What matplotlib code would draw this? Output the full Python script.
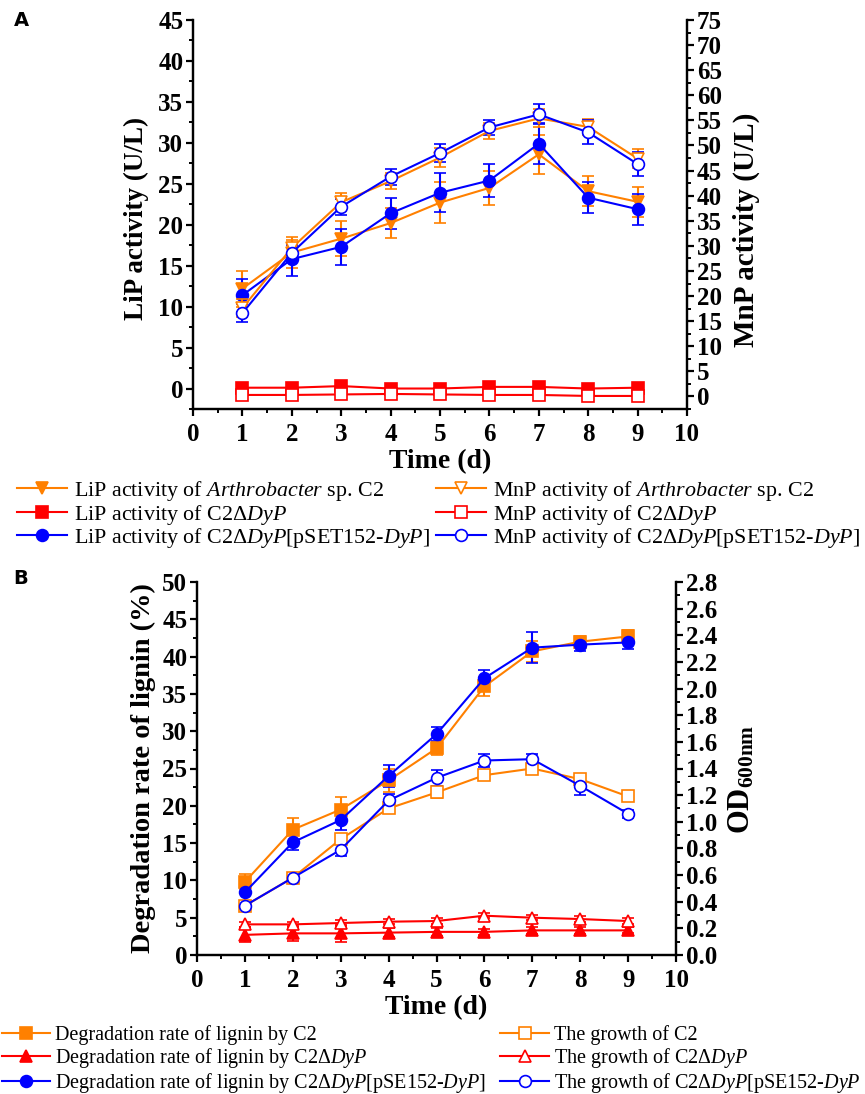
import matplotlib
matplotlib.use("Agg")
import matplotlib.pyplot as plt
from matplotlib.ticker import MultipleLocator, FormatStrFormatter
from matplotlib.lines import Line2D

plt.rcParams['font.family'] = ['Liberation Serif', 'DejaVu Serif']
plt.rcParams['mathtext.fontset'] = 'custom'
plt.rcParams['mathtext.rm'] = 'Liberation Serif'
plt.rcParams['mathtext.it'] = 'Liberation Serif:italic'
plt.rcParams['mathtext.bf'] = 'Liberation Serif:bold'

ORANGE = '#FF8000'
RED = '#FF0000'
BLUE = '#0000FF'

days = [1, 2, 3, 4, 5, 6, 7, 8, 9]

# Panel A (LiP left axis, MnP right axis), U/L
lip_c2 = [12.2, 16.6, 18.3, 20.2, 22.7, 24.5, 28.6, 24.1, 22.8]
lip_c2_err = [2.2, 1.9, 2.1, 1.8, 2.5, 2.1, 2.4, 1.8, 1.8]
lip_del = [0.1, 0.1, 0.3, 0.0, 0.0, 0.2, 0.2, 0.0, 0.1]
lip_del_err = [0.3, 0.3, 0.3, 0.3, 0.3, 0.3, 0.3, 0.3, 0.3]
lip_comp = [11.4, 15.8, 17.3, 21.4, 23.9, 25.4, 29.9, 23.3, 21.9]
lip_comp_err = [2.0, 2.0, 2.2, 1.9, 2.4, 2.0, 2.5, 1.9, 1.9]

mnp_c2 = [17.6, 29.6, 38.7, 42.9, 47.6, 52.9, 55.4, 53.7, 47.4]
mnp_c2_err = [1.8, 1.6, 1.8, 1.6, 1.8, 1.6, 1.8, 1.6, 1.8]
mnp_del = [0.3, 0.3, 0.4, 0.5, 0.4, 0.3, 0.3, 0.1, 0.1]
mnp_del_err = [0.3, 0.3, 0.3, 0.6, 0.4, 0.4, 0.5, 0.3, 0.3]
mnp_comp = [16.6, 28.6, 37.8, 43.8, 48.5, 53.6, 56.2, 52.6, 46.3]
mnp_comp_err = [1.8, 1.6, 1.6, 1.6, 1.8, 1.5, 2.0, 2.4, 2.4]

# Panel B (degradation % left axis, OD600 right axis)
deg_c2 = [9.8, 16.8, 19.5, 23.4, 27.7, 36.0, 40.7, 42.0, 42.7]
deg_c2_err = [1.0, 1.6, 1.7, 1.5, 0.9, 1.3, 1.4, 0.8, 0.8]
deg_del = [2.7, 2.9, 2.9, 3.0, 3.1, 3.1, 3.3, 3.3, 3.3]
deg_del_err = [1.0, 1.0, 1.1, 0.6, 0.5, 0.4, 0.5, 0.5, 0.4]
deg_comp = [8.4, 15.1, 18.1, 24.0, 29.6, 37.1, 41.2, 41.6, 41.9]
deg_comp_err = [1.5, 1.0, 1.4, 1.5, 0.9, 1.1, 2.1, 0.9, 0.9]

od_c2 = [0.37, 0.58, 0.87, 1.10, 1.22, 1.35, 1.40, 1.32, 1.19]
od_c2_err = [0.03, 0.03, 0.04, 0.03, 0.04, 0.04, 0.03, 0.04, 0.03]
od_del = [0.23, 0.23, 0.24, 0.25, 0.255, 0.295, 0.28, 0.27, 0.255]
od_del_err = [0.02, 0.02, 0.02, 0.02, 0.02, 0.02, 0.02, 0.02, 0.02]
od_comp = [0.37, 0.58, 0.79, 1.16, 1.33, 1.46, 1.47, 1.27, 1.06]
od_comp_err = [0.03, 0.03, 0.05, 0.05, 0.06, 0.05, 0.04, 0.07, 0.03]

legend_a = ['LiP activity of $\\mathit{Arthrobacter}$ sp. C2',
            'LiP activity of C2Δ$\\mathit{DyP}$',
            'LiP activity of C2Δ$\\mathit{DyP}$[pSET152-$\\mathit{DyP}$]',
            'MnP activity of $\\mathit{Arthrobacter}$ sp. C2',
            'MnP activity of C2Δ$\\mathit{DyP}$',
            'MnP activity of C2Δ$\\mathit{DyP}$[pSET152-$\\mathit{DyP}$]']
legend_b = ['Degradation rate of lignin by C2',
            'Degradation rate of lignin by C2Δ$\\mathit{DyP}$',
            'Degradation rate of lignin by C2Δ$\\mathit{DyP}$[pSE152-$\\mathit{DyP}$]',
            'The growth of C2',
            'The growth of C2Δ$\\mathit{DyP}$',
            'The growth of C2Δ$\\mathit{DyP}$[pSE152-$\\mathit{DyP}$']

W, H = 865, 1094
fig = plt.figure(figsize=(W / 100, H / 100), dpi=100)

TICKFS = 18
MS = 8.5


def style_axis(ax, xpad=5):
    ax.spines['top'].set_visible(False)
    for s in ['left', 'right', 'bottom']:
        ax.spines[s].set_linewidth(1.6)
    ax.tick_params(which='major', direction='out', length=5, width=1.6,
                   labelsize=TICKFS, pad=2)
    ax.tick_params(axis='x', which='major', pad=xpad)
    ax.tick_params(which='minor', direction='out', length=3, width=1.4)
    for lab in ax.get_xticklabels() + ax.get_yticklabels():
        lab.set_fontweight('bold')


def series(ax, y, err, color, marker, filled):
    mfc = color if filled else 'white'
    ax.errorbar(days, y, yerr=err, color=color, marker=marker, ms=MS,
                mfc=mfc, mec=color, mew=1.2, lw=1.5, capsize=4,
                elinewidth=1.5, capthick=1.5)


def place_label(label, size):
    label.set_fontsize(size)
    label.set_fontweight('bold')
    label.set_ha('center')
    label.set_va('center')
    label.set_rotation_mode('default')


# ---------------- Panel A ----------------
axA = fig.add_axes([193 / W, 1 - 409 / H, (687 - 193) / W, (409 - 20) / H])
axA2 = axA.twinx()
series(axA, lip_c2, lip_c2_err, ORANGE, 'v', True)
series(axA, lip_del, lip_del_err, RED, 's', True)
series(axA, lip_comp, lip_comp_err, BLUE, 'o', True)
series(axA2, mnp_c2, mnp_c2_err, ORANGE, 'v', False)
series(axA2, mnp_del, mnp_del_err, RED, 's', False)
series(axA2, mnp_comp, mnp_comp_err, BLUE, 'o', False)
axA.set_xlim(0, 10)
axA.set_ylim(-2.5, 45)
axA2.set_ylim(-2.5, 75)
axA.xaxis.set_major_locator(MultipleLocator(1))
axA.xaxis.set_minor_locator(MultipleLocator(0.5))
axA.yaxis.set_major_locator(MultipleLocator(5))
axA.yaxis.set_minor_locator(MultipleLocator(2.5))
axA2.yaxis.set_major_locator(MultipleLocator(5))
axA2.yaxis.set_minor_locator(MultipleLocator(2.5))
style_axis(axA)
style_axis(axA2)
axA.set_xlabel('Time (d)')
axA.xaxis.set_label_coords(0.5, (409 - 462) / 389)
place_label(axA.xaxis.label, 20)
axA.set_ylabel('LiP activity (U/L)')
axA.yaxis.set_label_coords((136 - 193) / 494, 0.49)
place_label(axA.yaxis.label, 19.5)
axA2.set_ylabel('MnP activity (U/L)')
axA2.yaxis.set_label_coords((746 - 193) / 494, 0.46)
place_label(axA2.yaxis.label, 21)

# ---------------- Panel B ----------------
axB = fig.add_axes([197 / W, 1 - 955 / H, (676 - 197) / W, (955 - 582) / H])
axB2 = axB.twinx()
series(axB, deg_c2, deg_c2_err, ORANGE, 's', True)
series(axB, deg_del, deg_del_err, RED, '^', True)
series(axB, deg_comp, deg_comp_err, BLUE, 'o', True)
series(axB2, od_c2, od_c2_err, ORANGE, 's', False)
series(axB2, od_del, od_del_err, RED, '^', False)
series(axB2, od_comp, od_comp_err, BLUE, 'o', False)
axB.set_xlim(0, 10)
axB.set_ylim(0, 50)
axB2.set_ylim(0, 2.8)
axB.xaxis.set_major_locator(MultipleLocator(1))
axB.xaxis.set_minor_locator(MultipleLocator(0.5))
axB.yaxis.set_major_locator(MultipleLocator(5))
axB.yaxis.set_minor_locator(MultipleLocator(2.5))
axB2.yaxis.set_major_locator(MultipleLocator(0.2))
axB2.yaxis.set_minor_locator(MultipleLocator(0.1))
axB2.yaxis.set_major_formatter(FormatStrFormatter('%.1f'))
style_axis(axB)
style_axis(axB2)
axB.set_xlabel('Time (d)')
axB.xaxis.set_label_coords(0.5, (955 - 1008) / 373)
place_label(axB.xaxis.label, 20)
axB.set_ylabel('Degradation rate of lignin (%)')
axB.yaxis.set_label_coords((143 - 197) / 479, 0.5)
place_label(axB.yaxis.label, 20.5)
axB2.set_ylabel('OD$_{\\mathbf{600nm}}$')
axB2.yaxis.set_label_coords((742 - 197) / 479, 0.47)
place_label(axB2.yaxis.label, 22)


def handles(colors, markers, fills):
    hs = []
    for c, m, f in zip(colors, markers, fills):
        hs.append(Line2D([], [], color=c, marker=m, ms=MS, lw=1.5,
                         mfc=c if f else 'white', mec=c, mew=1.2))
    return hs


hA = handles([ORANGE, RED, BLUE, ORANGE, RED, BLUE],
             ['v', 's', 'o', 'v', 's', 'o'],
             [True, True, True, False, False, False])
fig.legend(hA, legend_a, loc='upper left', bbox_to_anchor=(17 / W, 1 - 479 / H),
           ncol=2, frameon=False, fontsize=15.8, handlelength=2.3,
           handletextpad=0.3, columnspacing=0.25, labelspacing=-0.02,
           borderpad=0, borderaxespad=0)

hB = handles([ORANGE, RED, BLUE, ORANGE, RED, BLUE],
             ['s', '^', 'o', 's', '^', 'o'],
             [True, True, True, False, False, False])
fig.legend(hB, legend_b, loc='upper left', bbox_to_anchor=(2 / W, 1 - 1025 / H),
           ncol=2, frameon=False, fontsize=14.5, handlelength=2.4,
           handletextpad=0.25, columnspacing=0.7, labelspacing=0.06,
           borderpad=0, borderaxespad=0)

fig.text(21 / W, 1 - 20 / H, 'A', fontsize=14, fontweight='bold',
         family='DejaVu Sans', va='center', ha='center')
fig.text(21 / W, 1 - 578 / H, 'B', fontsize=14, fontweight='bold',
         family='DejaVu Sans', va='center', ha='center')

fig.savefig('out.png', dpi=100)
